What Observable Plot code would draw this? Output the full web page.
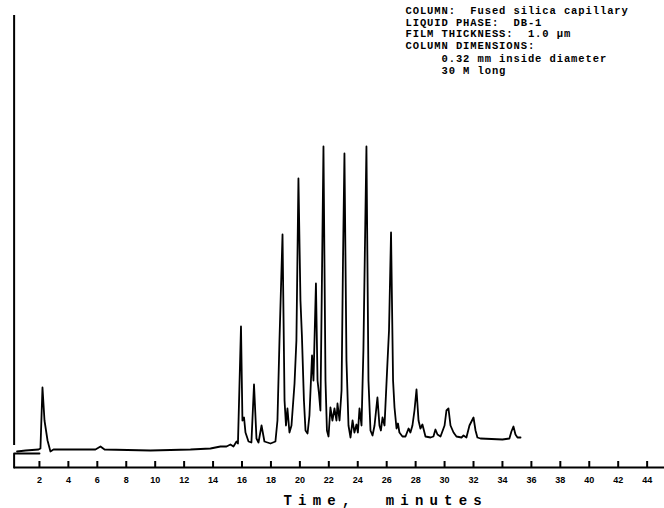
<!DOCTYPE html>
<html>
<head>
<meta charset="utf-8">
<script src="https://cdn.jsdelivr.net/npm/d3@7"></script>
<script src="https://cdn.jsdelivr.net/npm/@observablehq/plot@0.6"></script>
<style>
  html, body { margin: 0; padding: 0; background: #fff; }
  #chart svg { display: block; }
</style>
</head>
<body>
<div id="chart"></div>
<script>
// Chromatogram trace (time in minutes, detector response in arbitrary units)
const traceTime = [
  0.45, 1.04, 1.94, 2.07, 2.21, 2.35, 2.56, 2.76, 2.97, 4.15, 5.87, 6.22, 6.50, 9.67, 12.44, 13.82,
  14.51, 14.93, 15.20, 15.41, 15.62, 15.72, 15.93, 16.03, 16.14, 16.24, 16.45, 16.65, 16.83, 17.00,
  17.14, 17.35, 17.55, 17.97, 18.31, 18.45, 18.59, 18.80, 18.94, 19.04, 19.14, 19.28, 19.42, 19.63,
  19.76, 19.90, 20.04, 20.14, 20.28, 20.39, 20.53, 20.66, 20.84, 20.94, 21.11, 21.22, 21.32, 21.42,
  21.63, 21.77, 21.87, 21.98, 22.11, 22.25, 22.39, 22.53, 22.60, 22.74, 22.88, 22.98, 23.08, 23.22,
  23.36, 23.50, 23.64, 23.77, 23.91, 24.01, 24.12, 24.26, 24.39, 24.60, 24.74, 24.88, 25.02, 25.16,
  25.36, 25.50, 25.60, 25.71, 25.85, 26.05, 26.16, 26.30, 26.44, 26.54, 26.68, 26.78, 26.88, 27.09,
  27.30, 27.51, 27.64, 27.78, 27.92, 28.06, 28.20, 28.33, 28.47, 28.68, 29.03, 29.23, 29.37, 29.51,
  29.72, 30.00, 30.13, 30.27, 30.41, 30.62, 30.82, 31.17, 31.31, 31.51, 31.72, 32.00, 32.14, 32.27,
  32.48, 34.00, 34.48, 34.62, 34.76, 34.90, 35.04, 35.25
];
const traceSignal = [
  16, 17, 18, 19, 80, 47, 27, 16, 18, 18, 18, 21, 18, 17, 18, 19,
  21, 21, 23, 21, 26, 24, 141, 47, 50, 35, 26, 25, 83, 29,
  25, 42, 26, 24, 26, 47, 127, 233, 67, 42, 59, 35, 42, 84,
  127, 289, 167, 132, 67, 37, 34, 52, 112, 87, 184, 87, 74, 57,
  321, 87, 37, 31, 60, 47, 59, 47, 64, 47, 77, 207, 314, 107,
  42, 30, 47, 35, 43, 35, 59, 42, 117, 321, 87, 37, 32, 42,
  70, 42, 37, 50, 42, 104, 137, 235, 87, 60, 39, 44, 35, 31,
  31, 39, 35, 42, 57, 78, 47, 39, 43, 31, 30, 31, 38, 33,
  31, 42, 57, 59, 42, 35, 31, 30, 32, 30, 42, 50, 37, 30,
  29, 28, 29, 36, 41, 33, 30, 30
];

// Recorder pen marker and baseline bracket
const penMarkTime = [0.25];
const penMarkSignal = [22, 452];
const bracketTime = [2.0, 0.25, 0.25];
const bracketSignal = [14, 14, 0];

// Time axis
const tickMinutes = [2, 4, 6, 8, 10, 12, 14, 16, 18, 20, 22, 24, 26, 28, 30, 32, 34, 36, 38, 40, 42, 44];
const tickLabels = ["2", "4", "6", "8", "10", "12", "14", "16", "18", "20", "22", "24", "26", "28", "30", "32", "34", "36", "38", "40", "42", "44"];
const axisTitle = "Time,\u00a0\u00a0minutes";

// Column annotation
const noteLines = [
  "COLUMN:\u00a0\u00a0Fused silica capillary",
  "LIQUID PHASE:\u00a0\u00a0DB-1",
  "FILM THICKNESS:\u00a0\u00a01.0 \u03bcm",
  "COLUMN DIMENSIONS:",
  "\u00a0\u00a0\u00a0\u00a0\u00a00.32 mm inside diameter",
  "\u00a0\u00a0\u00a0\u00a0\u00a030 M long"
];
const noteOffsets = [10.5, 22, 33.5, 45, 58.5, 70.5];

const trace = traceTime.map((t, i) => ({t, s: traceSignal[i]}));
const bracket = bracketTime.map((t, i) => ({t, s: bracketSignal[i]}));
const ticks = tickMinutes.map((t, i) => ({t, label: tickLabels[i]}));

const mono = "'Liberation Mono', 'DejaVu Sans Mono', monospace";

const noteMarks = noteLines.map((line, i) =>
  Plot.text([line], {
    text: d => d,
    frameAnchor: "top-left",
    dx: 395,
    dy: noteOffsets[i],
    textAnchor: "start",
    lineAnchor: "middle",
    fontFamily: mono,
    fontSize: 10.5,
    fontWeight: "bold",
    fill: "#000"
  })
);

const chart = Plot.plot({
  width: 664,
  height: 508,
  marginLeft: 10,
  marginRight: 0,
  marginTop: 0,
  marginBottom: 41,
  x: {domain: [0, 45.2], axis: null},
  y: {domain: [0, 467], axis: null},
  marks: [
    Plot.ruleX(penMarkTime, {x: d => d, y1: penMarkSignal[0], y2: penMarkSignal[1], stroke: "#000", strokeWidth: 2}),
    Plot.line(bracket, {x: "t", y: "s", stroke: "#000", strokeWidth: 2}),
    Plot.ruleY([0], {x1: 0.25, x2: 45.2, stroke: "#000", strokeWidth: 2}),
    Plot.ruleX(ticks, {x: "t", y1: 0, y2: 6, stroke: "#000", strokeWidth: 2}),
    Plot.text(ticks, {x: "t", y: 0, dy: 13, text: "label", fontFamily: "'Liberation Sans', Arial, sans-serif", fontWeight: "bold", fontSize: 9, fill: "#000"}),
    Plot.line(trace, {x: "t", y: "s", stroke: "#000", strokeWidth: 1.8, strokeLinejoin: "round"}),
    ...noteMarks,
    Plot.text([axisTitle], {
      text: d => d,
      frameAnchor: "bottom-left",
      dx: 273,
      dy: 33,
      textAnchor: "start",
      lineAnchor: "middle",
      fontFamily: mono,
      fontSize: 14,
      fontWeight: "bold",
      fill: "#000"
    })
  ]
});

// letter spacing for the typewriter-style texts
d3.select(chart).selectAll("text").each(function () {
  const s = this.textContent;
  if (s === axisTitle) this.setAttribute("letter-spacing", "6.2");
  else if (noteLines.includes(s)) this.setAttribute("letter-spacing", "0.9");
});
document.getElementById("chart").append(chart);
</script>
</body>
</html>
